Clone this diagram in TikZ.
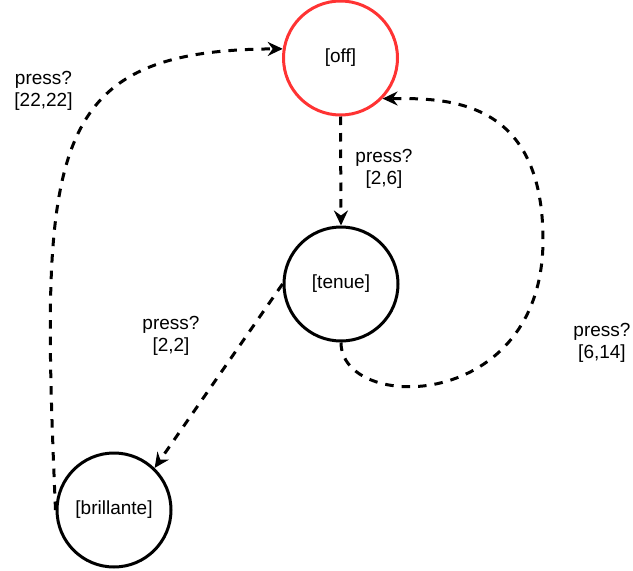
\documentclass[tikz,border=0pt]{standalone}
\usepackage{fontspec}
\setmainfont{Liberation Sans}
\usetikzlibrary{arrows.meta}
\definecolor{offred}{HTML}{FF3333}
\begin{document}
\begin{tikzpicture}[x=1pt,y=-1pt,
  font=\fontsize{19}{22}\selectfont,
  state/.style={circle,draw=black,line width=3pt,minimum size=114pt,inner sep=0pt,fill=white},
  trans/.style={draw=black,line width=3pt,dash pattern=on 8.5pt off 8pt,
    -{Stealth[length=15pt,width=14pt,inset=5pt]}},
  lbl/.style={align=center,inner sep=0pt}]
\useasboundingbox (0,0) rectangle (633,571);

% states
\node[state,draw=offred] (off) at (340.5,58) {[off]};
\node[state] (tenue) at (341,284) {[tenue]};
\node[state] (brillante) at (114,510) {[brillante]};

% transitions
\draw[trans] (off.south) -- (tenue.north);
\draw[trans] (tenue.west) -- (brillante.46);
\draw[trans] (brillante.west) .. controls (40,150) and (45,50) .. (off.171);
\draw[trans] (tenue.south) .. controls (341,413) and (543,413) .. (543,240)
  .. controls (543,100) and (450,98) .. (off.316);

% transition labels
\node[lbl] (l1) at (43.5,91) {press?\\{[22,22]}};
\node[lbl] (l2) at (384,169) {press?\\{[2,6]}};
\node[lbl] (l3) at (171,336) {press?\\{[2,2]}};
\node[lbl] (l4) at (602,343) {press?\\{[6,14]}};
\end{tikzpicture}
\end{document}
